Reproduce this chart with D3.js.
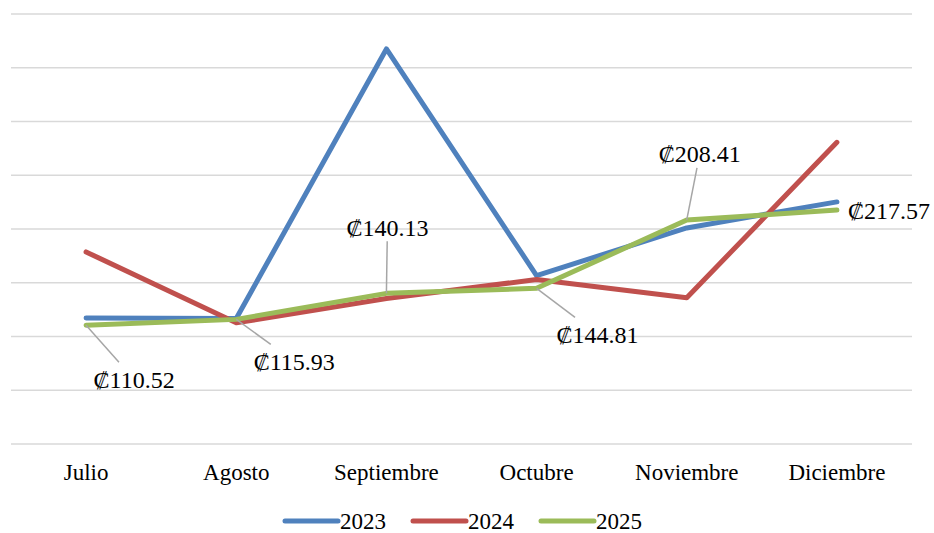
<!DOCTYPE html>
<html>
<head>
<meta charset="utf-8">
<script src="https://cdn.jsdelivr.net/npm/d3@7"></script>
<style>
  body { margin: 0; background: #fff; }
  text { font-family: "Liberation Serif", "Times New Roman", "DejaVu Serif", serif; fill: #000; }
</style>
</head>
<body>
<div id="chart"></div>
<script>
// data
var months = ["Julio", "Agosto", "Septiembre", "Octubre", "Noviembre", "Diciembre"];
var years = ["2023", "2024", "2025"];
var v2023 = [117.3, 116.7, 367.5, 156.7, 201.0, 225.2];
var v2024 = [178.7, 112.7, 135.3, 153.0, 136.0, 280.6];
var v2025 = [110.52, 115.93, 140.13, 144.81, 208.41, 217.57];
var yTicks = [0, 50, 100, 150, 200, 250, 300, 350, 400];

var colors = ["#4f81bd", "#c0504d", "#9bbb59"];
var series = [v2023, v2024, v2025];

// label placement for the 2025 labels: [dx, dy] of text centre from point, leader or not
var labelOffsets = [[48, 54, true], [58, 42, true], [1, -66, true], [61, 46, true], [13, -66, true], [0, 0, false]];

var width = 934, height = 533;
var margin = {top: 14, right: 22, bottom: 89, left: 11};

var svg = d3.select("#chart").append("svg")
  .attr("width", width)
  .attr("height", height);

var x = d3.scaleBand()
  .domain(months)
  .range([margin.left, width - margin.right]);

var y = d3.scaleLinear()
  .domain([0, 400])
  .range([height - margin.bottom, margin.top]);

// gridlines
svg.append("g")
  .selectAll("line")
  .data(yTicks)
  .join("line")
    .attr("x1", margin.left)
    .attr("x2", width - margin.right)
    .attr("y1", d => y(d))
    .attr("y2", d => y(d))
    .attr("stroke", "#d9d9d9")
    .attr("stroke-width", 1.5);

// x axis labels
var xAxis = svg.append("g")
  .attr("transform", "translate(0," + (height - margin.bottom) + ")")
  .call(d3.axisBottom(x).tickSize(0).tickPadding(20));
xAxis.select(".domain").remove();
xAxis.selectAll("text")
  .style("font-family", "'Liberation Serif', 'Times New Roman', serif")
  .style("font-size", "23px")
  .attr("fill", "#000");

var cx = d => x(d) + x.bandwidth() / 2;

var line = d3.line()
  .x((d, i) => cx(months[i]))
  .y(d => y(d));

svg.append("g")
  .selectAll("path")
  .data(series)
  .join("path")
    .attr("d", d => line(d))
    .attr("fill", "none")
    .attr("stroke", (d, i) => colors[i])
    .attr("stroke-width", 5)
    .attr("stroke-linejoin", "round")
    .attr("stroke-linecap", "round");

// data labels for 2025
var fmt = d => "\u20A1" + d3.format(".2f")(d);
var labels = svg.append("g");
v2025.forEach(function(v, i) {
  var px = cx(months[i]), py = y(v);
  var o = labelOffsets[i];
  if (o[2]) {
    var tx = px + o[0], ty = py + o[1];
    // leader ends at edge of text box
    var ey = o[1] > 0 ? ty - 17 : ty + 14;
    var ex = px + (tx - px) * (ey - py) / (ty - py);
    labels.append("line")
      .attr("x1", px).attr("y1", py)
      .attr("x2", ex).attr("y2", ey)
      .attr("stroke", "#a6a6a6")
      .attr("stroke-width", 1.5);
    labels.append("text")
      .attr("x", tx).attr("y", ty)
      .attr("dy", "0.35em")
      .attr("text-anchor", "middle")
      .style("font-size", "24px")
      .text(fmt(v));
  } else {
    labels.append("text")
      .attr("x", px + 11).attr("y", py)
      .attr("dy", "0.35em")
      .attr("text-anchor", "start")
      .style("font-size", "24px")
      .text(fmt(v));
  }
});

// legend
var legend = svg.append("g")
  .attr("transform", "translate(283,521)");
var item = legend.selectAll("g")
  .data(years)
  .join("g")
    .attr("transform", (d, i) => "translate(" + (i * 128) + ",0)");
item.append("line")
  .attr("x1", 2).attr("x2", 55)
  .attr("stroke", (d, i) => colors[i])
  .attr("stroke-width", 5)
  .attr("stroke-linecap", "round");
item.append("text")
  .attr("x", 57)
  .attr("dy", "0.33em")
  .style("font-size", "23px")
  .text(d => d);
</script>
</body>
</html>
